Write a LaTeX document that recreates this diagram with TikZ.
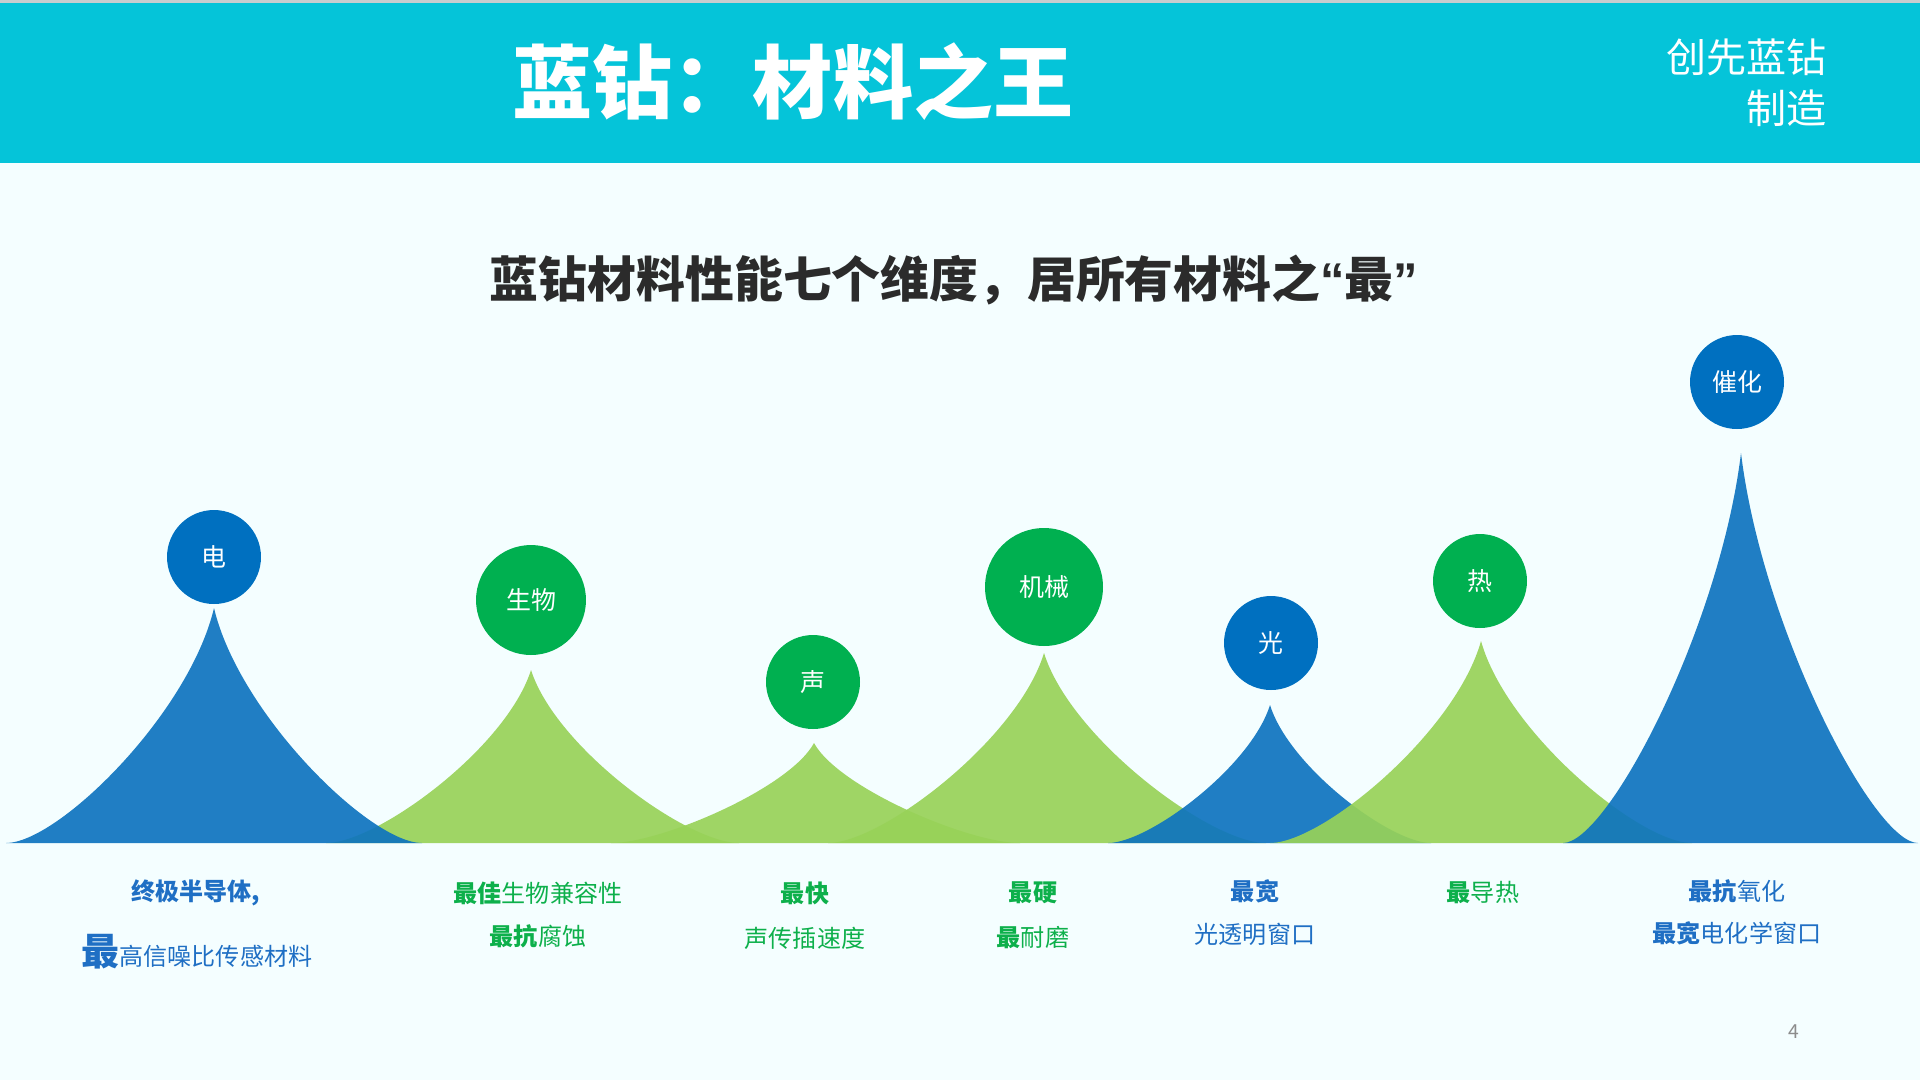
\documentclass[tikz,border=0pt]{standalone}
\usepackage{fontspec}
\newfontfamily\cjk{Noto Sans CJK SC}
\newfontfamily\latin{Liberation Sans}
\usetikzlibrary{positioning}
\definecolor{band}{HTML}{05C4D9}
\definecolor{paper}{HTML}{F4FEFF}
\definecolor{topline}{HTML}{C9CDCF}
\definecolor{hillblue}{HTML}{0E74BF}
\definecolor{hillgreen}{HTML}{98D258}
\definecolor{dotblue}{HTML}{0070C0}
\definecolor{dotgreen}{HTML}{00B050}
\definecolor{txtblue}{HTML}{1F6FC4}
\definecolor{txtgreen}{HTML}{0DB04B}
\definecolor{ink}{HTML}{2B2B2B}
% berg: stil, x, topp-y, halv bredd vänster, halv bredd höger
\newcommand\hill[5]{%
  \fill[#1] ({#2-#4},843) .. controls ({#2-0.75*#4},843) and ({#2-0.12*#4},{843-0.55*(843-#3)}) .. (#2,#3)
    .. controls ({#2+0.12*#5},{843-0.55*(843-#3)}) and ({#2+0.75*#5},843) .. ({#2+#5},843) -- cycle;}
\tikzset{
  % berg
  hb/.style={fill=hillblue,fill opacity=0.92},
  hg/.style={fill=hillgreen,fill opacity=0.92},
  % bubblor
  dot/.style={circle,inner sep=0pt,minimum size=1.88cm,text=white,
              font=\cjk\fontsize{14.2}{16}\selectfont},
  db/.style={dot,fill=dotblue},
  dg/.style={dot,fill=dotgreen},
  % texter
  lb/.style={text=txtblue,inner sep=0pt,font=\cjk\fontsize{13.7}{16}\selectfont},
  lg/.style={text=txtgreen,inner sep=0pt,font=\cjk\fontsize{13.7}{16}\selectfont},
}

\begin{document}
\begin{tikzpicture}[x={(0.02cm,0)},y={(0,-0.02cm)}]
\useasboundingbox (0,0) rectangle (1920,1080);
  \fill[paper] (0,0) rectangle (1920,1080);
  \fill[band] (0,0) rectangle (1920,163);
  \fill[topline] (0,0) rectangle (1920,3);
  \node[text=white,font=\cjk\bfseries\fontsize{45.6}{50}\selectfont] (title) at (793,82) {蓝钻：材料之王};
  \node[anchor=east,text=white,inner sep=0pt,font=\cjk\fontsize{22.8}{26}\selectfont] (brand1) at (1827,57) {创先蓝钻};
  \node[anchor=east,text=white,inner sep=0pt,font=\cjk\fontsize{22.8}{26}\selectfont] (brand2) at (1827,108) {制造};
  \node[text=ink,font=\cjk\bfseries\fontsize{27.8}{30}\selectfont] (sub) at (954,280) {蓝钻材料性能七个维度，居所有材料之{\latin “}最{\latin ”}};

  \hill{hg}{531}{670}{205}{208}
  \hill{hb}{214}{608}{208}{208}
  \hill{hg}{814}{743}{203}{206}
  \hill{hg}{1044}{653}{216}{222}
  \hill{hb}{1270}{705}{162}{161}
  \hill{hg}{1481}{641}{211}{211}
  \hill{hb}{1741}{453}{178}{177}

  \node[db] (el) at (214,557) {电};
  \node[dg,minimum size=2.2cm] (bio) at (531,600) {生物};
  \node[dg] (sound) at (813,682) {声};
  \node[dg,minimum size=2.36cm] (mech) at (1044,587) {机械};
  \node[db] (light) at (1271,643) {光};
  \node[dg] (heat) at (1480,581) {热};
  \node[db] (cat) at (1737,382) {催化};

  \node[lb,font=\cjk\bfseries\fontsize{13.7}{16}\selectfont] (el1) at (196,893) {终极半导体,};
  \node[lb] (el2) at (197,952) {{\bfseries\fontsize{21.6}{24}\selectfont 最}高信噪比传感材料};
  \node[lg] (bio1) at (538,893) {{\bfseries 最佳}生物兼容性};
  \node[lg] (bio2) at (538,936) {{\bfseries 最抗}腐蚀};
  \node[lg] (sound1) at (805,893) {{\bfseries 最快}};
  \node[lg] (sound2) at (805,938) {声传插速度};
  \node[lg] (mech1) at (1033,893) {{\bfseries 最硬}};
  \node[lg] (mech2) at (1033,938) {{\bfseries 最}耐磨};
  \node[lb] (light1) at (1255,891) {{\bfseries 最宽}};
  \node[lb] (light2) at (1255,934) {光透明窗口};
  \node[lg] (heat1) at (1483,893) {{\bfseries 最}导热};
  \node[lb] (cat1) at (1737,891) {{\bfseries 最抗}氧化};
  \node[lb] (cat2) at (1737,933) {{\bfseries 最宽}电化学窗口};

  \node[text=black!45,font=\cjk\fontsize{11}{13}\selectfont] (page) at (1794,1032) {4};
\end{tikzpicture}
\end{document}
